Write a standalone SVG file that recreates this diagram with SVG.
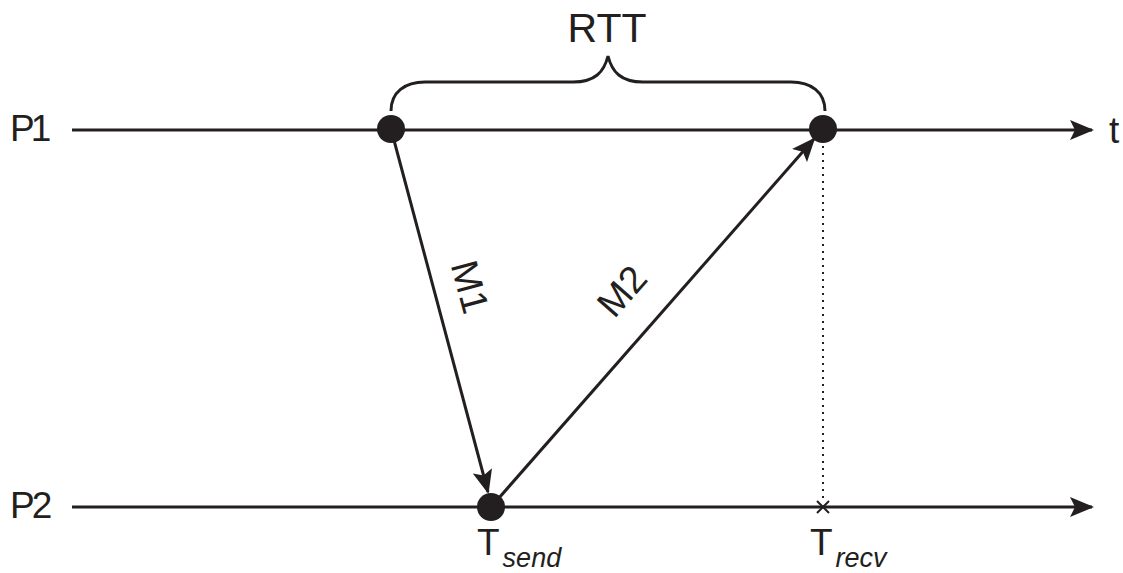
<svg xmlns="http://www.w3.org/2000/svg" width="1123" height="573" viewBox="0 0 1123 573">
<style>
.ln{stroke:#231f20;stroke-width:3;fill:none}
.tx{font-family:"Liberation Sans",Arial,sans-serif;fill:#231f20}
.dot{fill:#231f20}
</style>
<defs>
<marker id="ah" markerWidth="24" markerHeight="20" viewBox="0 0 24 20" refX="22" refY="10" orient="auto" markerUnits="userSpaceOnUse">
<path d="M0,0 L24,10 L0,20 L5,10 Z" fill="#231f20"/>
</marker>
</defs>
<rect width="1123" height="573" fill="#fff"/>
<g id="connectors">
<line class="ln" x1="72" y1="130" x2="1092" y2="130" marker-end="url(#ah)"/>
<line class="ln" x1="72" y1="507" x2="1092" y2="507" marker-end="url(#ah)"/>
<line class="ln" x1="391" y1="129" x2="488" y2="492" marker-end="url(#ah)"/>
<line class="ln" x1="491" y1="507" x2="814" y2="139" marker-end="url(#ah)"/>
<line x1="823" y1="146" x2="823" y2="500" stroke="#231f20" stroke-width="2" stroke-dasharray="2,5"/>
<path class="ln" d="M391,111 C391,92 405,82 425,82 L573,82 C595,82 604,72 608,56 C612,72 621,82 643,82 L791,82 C811,82 825,92 825,111"/>
</g>
<g id="P1"><text class="tx" x="10" y="141" font-size="37" letter-spacing="-4">P1</text></g>
<g id="P2"><text class="tx" x="10" y="518" font-size="37" letter-spacing="-3">P2</text></g>
<g id="t"><text class="tx" x="1109" y="143" font-size="37">t</text></g>
<g id="RTT"><text class="tx" x="607" y="42" font-size="41" text-anchor="middle">RTT</text></g>
<g id="e1"><circle class="dot" cx="391" cy="129" r="14"/></g>
<g id="e2"><circle class="dot" cx="823" cy="129" r="14"/></g>
<g id="e3"><circle class="dot" cx="491" cy="507" r="14"/></g>
<g id="recv"><path d="M817,501 L829,513 M829,501 L817,513" stroke="#231f20" stroke-width="2"/></g>
<g id="M1"><text class="tx" font-size="38" text-anchor="middle" transform="translate(470,287) rotate(75)" dy="13">M1</text></g>
<g id="M2"><text class="tx" font-size="38" text-anchor="middle" transform="translate(622,291) rotate(-48.7)" dy="13">M2</text></g>
<g id="Tsend"><text class="tx" x="477" y="555" font-size="37">T<tspan font-size="27" font-style="italic" dy="12" dx="3">send</tspan></text></g>
<g id="Trecv"><text class="tx" x="810" y="555" font-size="37">T<tspan font-size="27" font-style="italic" dy="12" dx="3">recv</tspan></text></g>
</svg>
